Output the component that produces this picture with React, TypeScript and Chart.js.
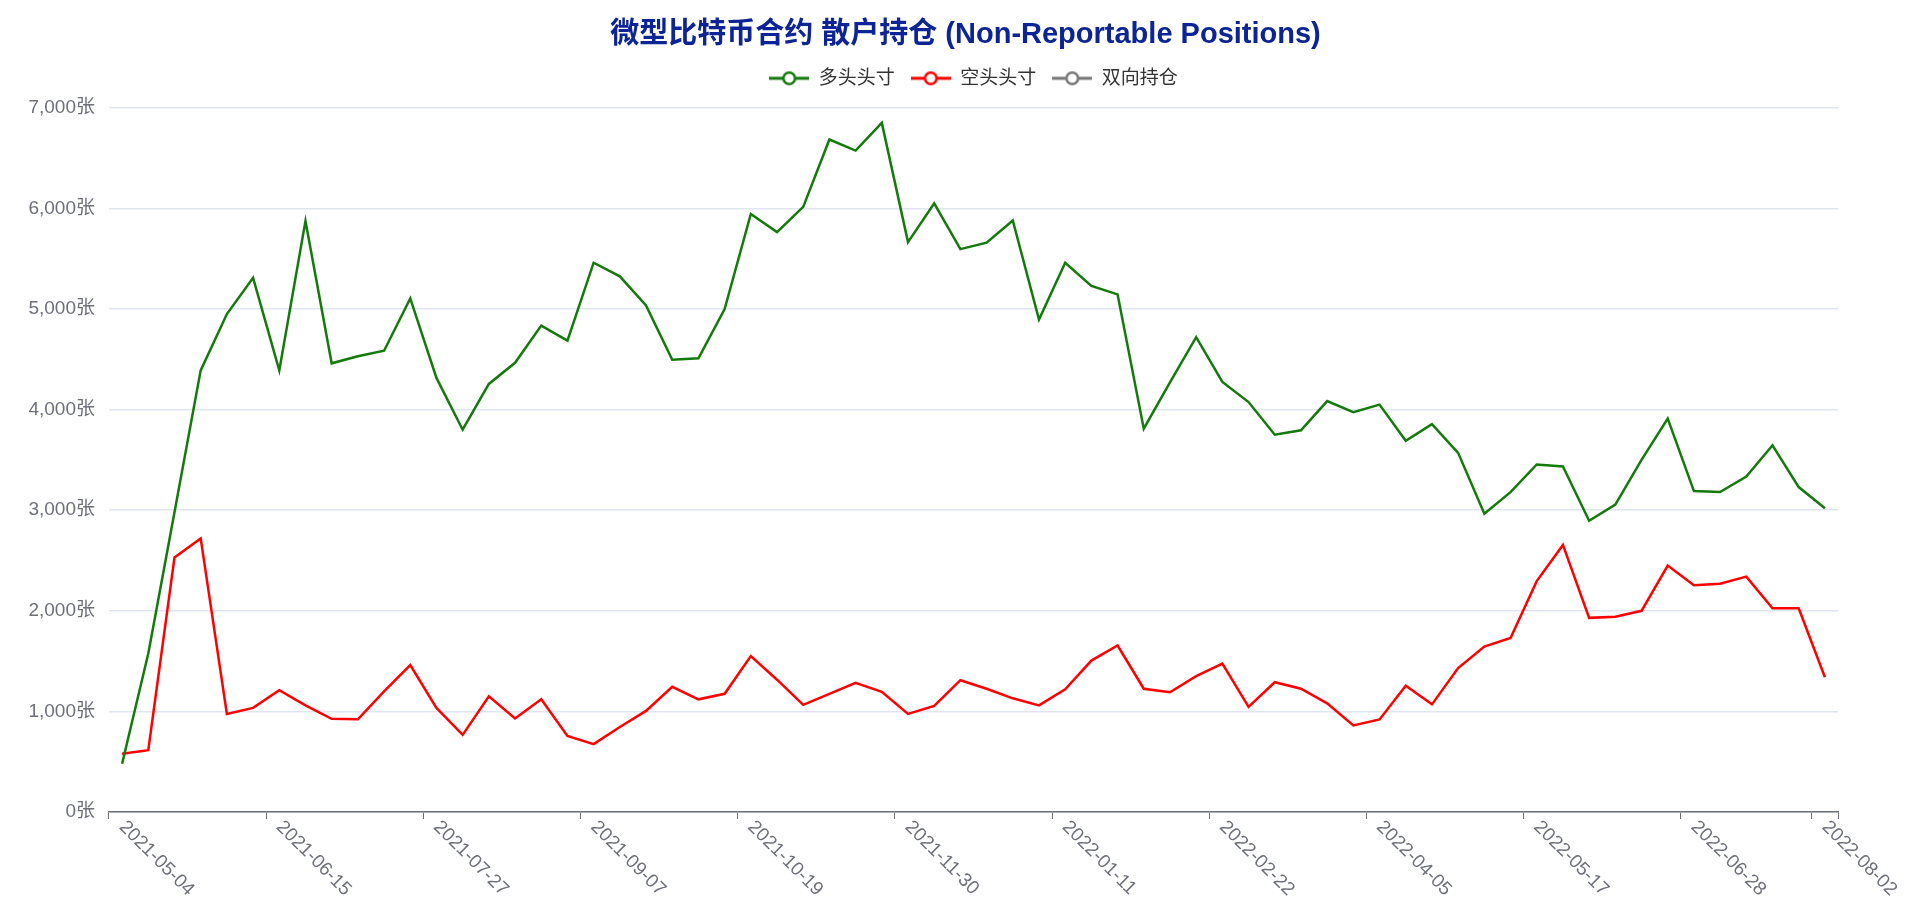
import React, { useEffect, useRef } from 'react';
import { Chart, registerables } from 'chart.js';

Chart.register(...registerables);

const dates: string[] = [
  '2021-05-04', '2021-05-11', '2021-05-18', '2021-05-25', '2021-06-01', '2021-06-08', '2021-06-15', '2021-06-22', '2021-06-29',
  '2021-07-06', '2021-07-13', '2021-07-20', '2021-07-27', '2021-08-03', '2021-08-10', '2021-08-17', '2021-08-24', '2021-08-31',
  '2021-09-07', '2021-09-14', '2021-09-21', '2021-09-28', '2021-10-05', '2021-10-12', '2021-10-19', '2021-10-26', '2021-11-02',
  '2021-11-09', '2021-11-16', '2021-11-23', '2021-11-30', '2021-12-07', '2021-12-14', '2021-12-21', '2021-12-28',
  '2022-01-04', '2022-01-11', '2022-01-18', '2022-01-25', '2022-02-01', '2022-02-08', '2022-02-15', '2022-02-22',
  '2022-03-01', '2022-03-08', '2022-03-15', '2022-03-22', '2022-03-29', '2022-04-05', '2022-04-12', '2022-04-19', '2022-04-26',
  '2022-05-03', '2022-05-10', '2022-05-17', '2022-05-24', '2022-05-31', '2022-06-07', '2022-06-14', '2022-06-21', '2022-06-28',
  '2022-07-05', '2022-07-12', '2022-07-19', '2022-07-26', '2022-08-02',
];

const longValues: number[] = [
  480, 1575, 2980, 4390, 4950, 5310, 4390, 5875, 4460, 4530,
  4585, 5105, 4315, 3800, 4255, 4465, 4835, 4685, 5460, 5325,
  5035, 4495, 4510, 5000, 5945, 5765, 6015, 6685, 6575, 6850,
  5665, 6050, 5595, 5660, 5880, 4895, 5460, 5230, 5145, 3810,
  4270, 4720, 4275, 4075, 3750, 3795, 4085, 3975, 4050, 3690,
  3855, 3570, 2965, 3180, 3455, 3435, 2895, 3055, 3500, 3910,
  3190, 3180, 3335, 3645, 3230, 3020,
];

const shortValues: number[] = [
  580, 615, 2530, 2720, 975, 1035, 1210, 1060, 927, 922,
  1200, 1460, 1035, 767, 1150, 930, 1120, 755, 675, 845,
  1005, 1245, 1120, 1175, 1550, 1315, 1065, 1175, 1285, 1195,
  975, 1055, 1310, 1225, 1130, 1060, 1220, 1505, 1655, 1225,
  1190, 1350, 1475, 1045, 1290, 1225, 1080, 860, 920, 1255,
  1070, 1430, 1645, 1730, 2295, 2655, 1930, 1940, 2000, 2450,
  2255, 2270, 2340, 2025, 2025, 1340,
];

const spreadValues: (number | null)[] = [];

const seriesNames: string[] = ['多头头寸', '空头头寸', '双向持仓'];
const seriesColors: string[] = ['#137a0b', '#ff0000', '#767676'];
const xLabelIndices: number[] = [0, 6, 12, 18, 24, 30, 36, 42, 48, 54, 60, 65];
const titleText = '微型比特币合约 散户持仓 (Non-Reportable Positions)';
const yMin = 0;
const yMax = 7000;
const yStep = 1000;
const yUnit = '张';

const FONT = "'Liberation Sans', 'Noto Sans CJK SC', sans-serif";
const AXIS_COLOR = '#6E7079';

function makeLegendIcon(color: string): HTMLCanvasElement {
  const c = document.createElement('canvas');
  c.width = 40;
  c.height = 16;
  const g = c.getContext('2d')!;
  g.strokeStyle = color;
  g.lineWidth = 3;
  g.beginPath();
  g.moveTo(0, 8);
  g.lineTo(40, 8);
  g.stroke();
  g.beginPath();
  g.arc(20, 8, 5.8, 0, Math.PI * 2);
  g.fillStyle = '#ffffff';
  g.fill();
  g.lineWidth = 2.5;
  g.stroke();
  return c;
}

const xLabelPlugin = {
  id: 'rotatedXLabels',
  afterDraw(chart: any) {
    const xs = chart.scales.x;
    const ctx = chart.ctx as CanvasRenderingContext2D;
    ctx.save();
    ctx.font = `19px ${FONT}`;
    ctx.fillStyle = AXIS_COLOR;
    ctx.textAlign = 'left';
    ctx.textBaseline = 'middle';
    for (const i of xLabelIndices) {
      const px = xs.getPixelForValue(i);
      ctx.save();
      ctx.translate(px, xs.top + 12);
      ctx.rotate(Math.PI / 4);
      ctx.fillText(dates[i], 0, 0);
      ctx.restore();
    }
    ctx.restore();
  },
};

export default function App() {
  const canvasRef = useRef<HTMLCanvasElement | null>(null);

  useEffect(() => {
    if (!canvasRef.current) return;
    const icons = seriesColors.map((c) => makeLegendIcon(c));
    const seriesData = [longValues, shortValues, spreadValues];

    const chart = new Chart(canvasRef.current, {
      type: 'line',
      data: {
        labels: dates,
        datasets: seriesNames.map((name, i) => ({
          label: name,
          data: seriesData[i] as any,
          borderColor: seriesColors[i],
          backgroundColor: seriesColors[i],
          borderWidth: 2.5,
          pointRadius: 0,
          pointHoverRadius: 0,
          tension: 0,
          fill: false,
          yAxisID: 'y',
        })),
      },
      options: {
        animation: false,
        responsive: true,
        maintainAspectRatio: false,
        layout: { padding: 0 },
        plugins: {
          title: {
            display: true,
            text: titleText,
            color: '#0c2496',
            font: { family: FONT, size: 29, weight: 'bold', lineHeight: 1.2 },
            padding: { top: 10, bottom: 0 },
          },
          subtitle: {
            display: true,
            text: '',
            font: { family: FONT, size: 1, lineHeight: 1 },
            padding: { top: 0, bottom: 9 },
            weight: 500,
          } as any,
          legend: {
            display: true,
            fullSize: false,
            labels: {
              usePointStyle: true,
              pointStyleWidth: 40,
              padding: 16,
              color: '#333333',
              font: { family: FONT, size: 19 },
              generateLabels: (ch: any) => {
                const items = (Chart.defaults.plugins.legend.labels as any).generateLabels(ch);
                items.forEach((it: any, i: number) => {
                  it.pointStyle = icons[i];
                  it.fontColor = '#333333';
                });
                return items;
              },
            },
          },
          tooltip: { enabled: false },
        },
        scales: {
          x: {
            type: 'category',
            offset: true,
            grid: {
              offset: true,
              drawOnChartArea: false,
              tickLength: 7,
              lineWidth: 1,
              color: (c: any) =>
                c.type !== 'tick' || c.index % 6 === 0 || c.index === 65 ? AXIS_COLOR : 'rgba(0,0,0,0)',
            },
            border: { display: true, color: AXIS_COLOR, width: 1.5 },
            ticks: { display: false, autoSkip: false },
            afterFit: (s: any) => {
              s.height = 92;
            },
          },
          y: {
            position: 'left',
            min: yMin,
            max: yMax,
            ticks: {
              stepSize: yStep,
              color: AXIS_COLOR,
              font: { family: FONT, size: 19 },
              padding: 14,
              callback: (v: any) => Number(v).toLocaleString('en-US') + yUnit,
            },
            grid: { color: '#E0E6F1', lineWidth: 1.5, drawTicks: false },
            border: { display: false },
            afterFit: (s: any) => {
              s.width = 101;
            },
          },
          yRight: {
            type: 'linear',
            position: 'right',
            display: true,
            grid: { drawOnChartArea: false, drawTicks: false },
            ticks: { display: false },
            border: { display: false },
            afterFit: (s: any) => {
              s.width = 85;
            },
          },
        },
      },
      plugins: [xLabelPlugin],
    });

    return () => chart.destroy();
  }, []);

  return (
    <div style={{ position: 'relative', width: '1915px', height: '896px' }}>
      <canvas ref={canvasRef} />
    </div>
  );
}
